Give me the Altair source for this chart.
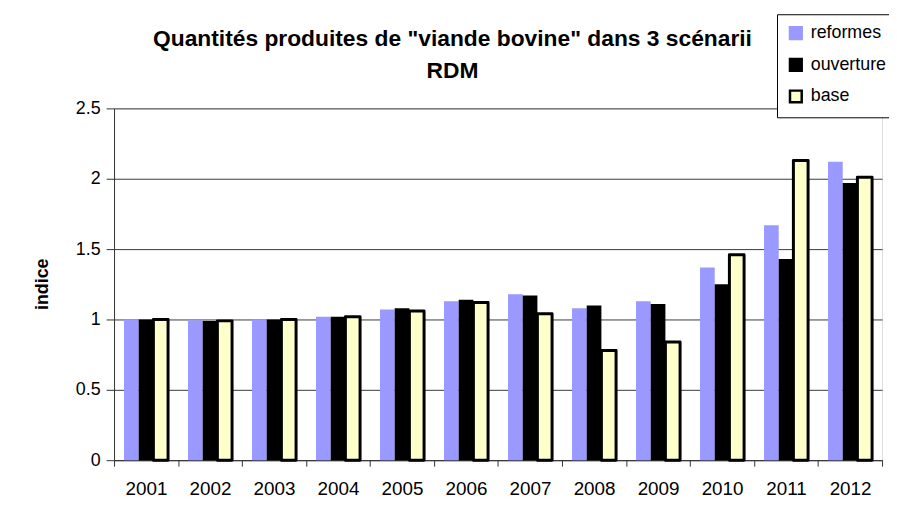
import altair as alt
import pandas as pd

years = ["2001", "2002", "2003", "2004", "2005", "2006", "2007", "2008", "2009", "2010", "2011", "2012"]
scenarios = ["reformes", "ouverture", "base"]
reformes = [1.00, 0.995, 1.00, 1.02, 1.07, 1.13, 1.18, 1.08, 1.13, 1.37, 1.67, 2.12]
ouverture = [1.00, 0.99, 1.00, 1.02, 1.08, 1.14, 1.17, 1.10, 1.11, 1.25, 1.43, 1.97]
base = [1.00, 0.99, 1.00, 1.02, 1.06, 1.12, 1.04, 0.78, 0.84, 1.46, 2.13, 2.01]
y_ticks = [0, 0.5, 1, 1.5, 2, 2.5]

rows = []
for name, vals in zip(scenarios, [reformes, ouverture, base]):
    for yr, v in zip(years, vals):
        rows.append({"annee": yr, "scenario": name, "indice": v})
df = pd.DataFrame(rows)

FONT = "Liberation Sans"
fill_colors = ["#9999FF", "#000000", "#FFFFCC"]
stroke_colors = ["#9999FF", "#000000", "#000000"]

bars = alt.Chart(df).mark_bar(strokeJoin="round").encode(
    x=alt.X("annee:N", sort=years, title=None,
            scale=alt.Scale(paddingInner=0, paddingOuter=0),
            axis=alt.Axis(labelAngle=0, tickBand="extent", tickSize=6,
                          labelPadding=14, labelFontSize=19, labelFont=FONT,
                          labelColor="#000", domainColor="#333", tickColor="#333",
                          grid=False)),
    xOffset=alt.XOffset("scenario:N", sort=scenarios,
                        scale=alt.Scale(paddingInner=0, paddingOuter=0.68)),
    y=alt.Y("indice:Q", title="indice",
            scale=alt.Scale(domain=[0, 2.5], nice=False),
            axis=alt.Axis(values=y_ticks, format="~g", tickSize=8, labelPadding=6,
                          labelFontSize=18, labelFont=FONT, labelColor="#000",
                          domainColor="#333", tickColor="#333",
                          gridColor="#3a3a3a", gridWidth=1,
                          titleFont=FONT, titleFontSize=18, titleFontWeight="bold",
                          titleColor="#000", titleX=-63, titleY=177)),
    fill=alt.Fill("scenario:N", sort=scenarios,
                  scale=alt.Scale(domain=scenarios, range=fill_colors),
                  legend=alt.Legend(title=None, orient="none", legendX=669, legendY=-95,
                                    symbolType="square", symbolSize=140,
                                    symbolStrokeWidth=2.5,
                                    labelFont=FONT, labelFontSize=18, labelColor="#000",
                                    strokeColor="#000", fillColor="#fff",
                                    padding=10, rowPadding=10, labelOffset=6)),
    stroke=alt.Stroke("scenario:N", sort=scenarios,
                      scale=alt.Scale(domain=scenarios, range=stroke_colors)),
    strokeWidth=alt.condition("datum.scenario == 'base'", alt.value(3), alt.value(0)),
)

chart = bars.properties(
    width=775, height=355,
    title=alt.TitleParams(
        text=["Quantités produites de \"viande bovine\" dans 3 scénarii", "RDM"],
        font=FONT, fontSize=23, fontWeight="bold", color="#000",
        anchor="middle", frame="group", dx=-46, lineHeight=32, offset=-70),
    autosize=alt.AutoSizeParams(type="none"),
    padding={"left": 107, "top": 99, "right": 7, "bottom": 52},
).configure_view(stroke="#888", strokeWidth=1).configure(background="#ffffff")

chart.save("out.html", embed_options={"renderer": "svg", "actions": False})
